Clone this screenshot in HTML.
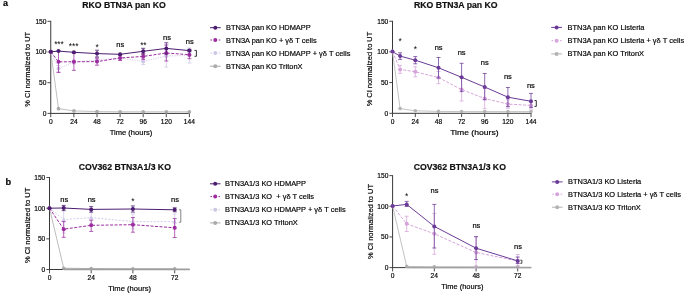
<!DOCTYPE html>
<html><head><meta charset="utf-8"><title>Figure</title>
<style>
html,body{margin:0;padding:0;background:#fff;}
body{width:685px;height:294px;overflow:hidden;font-family:"Liberation Sans",sans-serif;}
svg{display:block;will-change:transform;font-family:"Liberation Sans",sans-serif;}
text{fill:#000;stroke:#000;stroke-width:0.18px;}
.t{font-size:8.7px;font-weight:bold;fill:#111;}
.k{font-size:6.65px;}
.l{font-size:7.4px;}
.g{font-size:7.45px;white-space:pre;}
.n{font-size:7.5px;}.s{font-size:8.4px;letter-spacing:-0.1px;stroke:none;}
</style></head><body>
<svg width="685" height="294" viewBox="0 0 685 294">
<text x="3" y="5.8" style="font-size:9px;font-weight:bold">a</text>
<text class="t" x="124" y="8" text-anchor="middle">RKO BTN3A pan KO</text>
<path d="M50.75 20.85V113.4M50.25 113.4H189.8" stroke="#383838" stroke-width="1.0" fill="none"/>
<path d="M47.5 21.3H50.75" stroke="#383838" stroke-width="0.9"/>
<text class="k" x="46.5" y="24" text-anchor="end">150</text>
<path d="M47.5 52.0H50.75" stroke="#383838" stroke-width="0.9"/>
<text class="k" x="46.5" y="54" text-anchor="end">100</text>
<path d="M47.5 82.7H50.75" stroke="#383838" stroke-width="0.9"/>
<text class="k" x="46.5" y="85" text-anchor="end">50</text>
<path d="M47.5 113.4H50.75" stroke="#383838" stroke-width="0.9"/>
<text class="k" x="46.5" y="116" text-anchor="end">0</text>
<path d="M50.75 113.4V117.2" stroke="#383838" stroke-width="0.9"/>
<text class="k" x="50.75" y="124" text-anchor="middle">0</text>
<path d="M73.9 113.4V117.2" stroke="#383838" stroke-width="0.9"/>
<text class="k" x="73.9" y="124" text-anchor="middle">24</text>
<path d="M97.0 113.4V117.2" stroke="#383838" stroke-width="0.9"/>
<text class="k" x="97.0" y="124" text-anchor="middle">48</text>
<path d="M120.1 113.4V117.2" stroke="#383838" stroke-width="0.9"/>
<text class="k" x="120.1" y="124" text-anchor="middle">72</text>
<path d="M143.2 113.4V117.2" stroke="#383838" stroke-width="0.9"/>
<text class="k" x="143.2" y="124" text-anchor="middle">96</text>
<path d="M166.3 113.4V117.2" stroke="#383838" stroke-width="0.9"/>
<text class="k" x="166.3" y="124" text-anchor="middle">120</text>
<path d="M189.4 113.4V117.2" stroke="#383838" stroke-width="0.9"/>
<text class="k" x="189.4" y="124" text-anchor="middle">144</text>
<text class="l" x="131" y="135" text-anchor="middle" textLength="42.6" lengthAdjust="spacingAndGlyphs">Time (hours)</text>
<text class="l" transform="translate(30 69.3) rotate(-90)" text-anchor="middle" textLength="74.7" lengthAdjust="spacingAndGlyphs">% CI normalized to UT</text>
<polyline points="50.8,51.9 58.5,108.7 73.9,110.9 97.0,111.6 120.1,111.8 143.2,111.8 166.3,111.8 189.4,111.8" fill="none" stroke="#b0b0b0" stroke-width="0.8"/>
<circle cx="50.8" cy="51.9" r="1.85" fill="#ababab"/>
<circle cx="58.5" cy="108.7" r="1.85" fill="#ababab"/>
<circle cx="73.9" cy="110.9" r="1.85" fill="#ababab"/>
<circle cx="97.0" cy="111.6" r="1.85" fill="#ababab"/>
<circle cx="120.1" cy="111.8" r="1.85" fill="#ababab"/>
<circle cx="143.2" cy="111.8" r="1.85" fill="#ababab"/>
<circle cx="166.3" cy="111.8" r="1.85" fill="#ababab"/>
<circle cx="189.4" cy="111.8" r="1.85" fill="#ababab"/>
<path d="M58.5 65.6V71.6M56.5 65.6H60.5M56.5 71.6H60.5" stroke="#cfc6e6" stroke-width="0.75" fill="none"/>
<path d="M73.9 60.0V64.0M71.9 60.0H75.9M71.9 64.0H75.9" stroke="#cfc6e6" stroke-width="0.75" fill="none"/>
<path d="M97.0 58.0V62.0M95.0 58.0H99.0M95.0 62.0H99.0" stroke="#cfc6e6" stroke-width="0.75" fill="none"/>
<path d="M120.1 56.0V60.0M118.1 56.0H122.1M118.1 60.0H122.1" stroke="#cfc6e6" stroke-width="0.75" fill="none"/>
<path d="M143.2 58.5V64.5M141.2 58.5H145.2M141.2 64.5H145.2" stroke="#cfc6e6" stroke-width="0.75" fill="none"/>
<path d="M166.3 50.0V67.0M164.3 50.0H168.3M164.3 67.0H168.3" stroke="#cfc6e6" stroke-width="0.75" fill="none"/>
<path d="M189.4 48.0V63.0M187.4 48.0H191.4M187.4 63.0H191.4" stroke="#cfc6e6" stroke-width="0.75" fill="none"/>
<polyline points="50.8,51.8 58.5,68.6 73.9,62.0 97.0,60.0 120.1,58.0 143.2,61.5 166.3,56.0 189.4,55.5" fill="none" stroke="#cfc6e6" stroke-width="0.9" stroke-dasharray="1.2 1.2"/>
<circle cx="50.8" cy="51.8" r="2.0" fill="#cfc6e6"/>
<circle cx="58.5" cy="68.6" r="2.0" fill="#cfc6e6"/>
<circle cx="73.9" cy="62.0" r="2.0" fill="#cfc6e6"/>
<circle cx="97.0" cy="60.0" r="2.0" fill="#cfc6e6"/>
<circle cx="120.1" cy="58.0" r="2.0" fill="#cfc6e6"/>
<circle cx="143.2" cy="61.5" r="2.0" fill="#cfc6e6"/>
<circle cx="166.3" cy="56.0" r="2.0" fill="#cfc6e6"/>
<circle cx="189.4" cy="55.5" r="2.0" fill="#cfc6e6"/>
<path d="M58.5 51.0V72.5M56.5 51.0H60.5M56.5 72.5H60.5" stroke="#9c2ba0" stroke-width="0.75" fill="none"/>
<path d="M73.9 53.3V70.3M71.9 53.3H75.9M71.9 70.3H75.9" stroke="#9c2ba0" stroke-width="0.75" fill="none"/>
<path d="M97.0 58.0V65.2M95.0 58.0H99.0M95.0 65.2H99.0" stroke="#9c2ba0" stroke-width="0.75" fill="none"/>
<path d="M120.1 55.5V60.5M118.1 55.5H122.1M118.1 60.5H122.1" stroke="#9c2ba0" stroke-width="0.75" fill="none"/>
<path d="M143.2 53.4V59.4M141.2 53.4H145.2M141.2 59.4H145.2" stroke="#9c2ba0" stroke-width="0.75" fill="none"/>
<path d="M166.3 45.0V61.0M164.3 45.0H168.3M164.3 61.0H168.3" stroke="#9c2ba0" stroke-width="0.75" fill="none"/>
<path d="M189.4 50.7V58.7M187.4 50.7H191.4M187.4 58.7H191.4" stroke="#9c2ba0" stroke-width="0.75" fill="none"/>
<polyline points="50.8,51.8 58.5,61.8 73.9,61.8 97.0,61.6 120.1,58.0 143.2,56.4 166.3,53.0 189.4,54.7" fill="none" stroke="#9c2ba0" stroke-width="1.0" stroke-dasharray="3 1.5"/>
<circle cx="50.8" cy="51.8" r="2.0" fill="#9c2ba0"/>
<circle cx="58.5" cy="61.8" r="2.0" fill="#9c2ba0"/>
<circle cx="73.9" cy="61.8" r="2.0" fill="#9c2ba0"/>
<circle cx="97.0" cy="61.6" r="2.0" fill="#9c2ba0"/>
<circle cx="120.1" cy="58.0" r="2.0" fill="#9c2ba0"/>
<circle cx="143.2" cy="56.4" r="2.0" fill="#9c2ba0"/>
<circle cx="166.3" cy="53.0" r="2.0" fill="#9c2ba0"/>
<circle cx="189.4" cy="54.7" r="2.0" fill="#9c2ba0"/>
<path d="M97.0 50.2V57.0M95.0 50.2H99.0M95.0 57.0H99.0" stroke="#4b1c6f" stroke-width="0.75" fill="none"/>
<path d="M143.2 48.3V54.3M141.2 48.3H145.2M141.2 54.3H145.2" stroke="#4b1c6f" stroke-width="0.75" fill="none"/>
<path d="M166.3 42.8V54.0M164.3 42.8H168.3M164.3 54.0H168.3" stroke="#4b1c6f" stroke-width="0.75" fill="none"/>
<path d="M189.4 49.4V51.8M187.4 49.4H191.4M187.4 51.8H191.4" stroke="#4b1c6f" stroke-width="0.75" fill="none"/>
<polyline points="50.8,51.8 58.5,51.1 73.9,52.3 97.0,53.6 120.1,54.3 143.2,51.3 166.3,48.4 189.4,50.6" fill="none" stroke="#4b1c6f" stroke-width="1.0"/>
<circle cx="50.8" cy="51.8" r="2.0" fill="#4b1c6f"/>
<circle cx="58.5" cy="51.1" r="2.0" fill="#4b1c6f"/>
<circle cx="73.9" cy="52.3" r="2.0" fill="#4b1c6f"/>
<circle cx="97.0" cy="53.6" r="2.0" fill="#4b1c6f"/>
<circle cx="120.1" cy="54.3" r="2.0" fill="#4b1c6f"/>
<circle cx="143.2" cy="51.3" r="2.0" fill="#4b1c6f"/>
<circle cx="166.3" cy="48.4" r="2.0" fill="#4b1c6f"/>
<circle cx="189.4" cy="50.6" r="2.0" fill="#4b1c6f"/>
<text class="s" x="58.9" y="47" text-anchor="middle">***</text>
<text class="s" x="73.6" y="49" text-anchor="middle">***</text>
<text class="s" x="97.1" y="50" text-anchor="middle">*</text>
<text class="n" x="120.2" y="47" text-anchor="middle">ns</text>
<text class="s" x="143.3" y="48" text-anchor="middle">**</text>
<text class="n" x="167" y="40" text-anchor="middle">ns</text>
<text class="n" x="189.7" y="44" text-anchor="middle">ns</text>
<path d="M194.5 50.4H196.4V56.3H194.5" stroke="#333" stroke-width="1" fill="none"/>
<path d="M210 27.7H220.7" stroke="#4b1c6f" stroke-width="1"/>
<circle cx="215.3" cy="27.7" r="2" fill="#4b1c6f"/>
<text class="g" x="226" y="30" xml:space="preserve">BTN3A pan KO HDMAPP</text>
<path d="M210.4 40.0h1.6M218.7 40.0h1.6" stroke="#9c2ba0" stroke-width="1"/>
<circle cx="215.3" cy="40.0" r="2" fill="#9c2ba0"/>
<text class="g" x="226" y="43" xml:space="preserve">BTN3A pan KO + γδ T cells</text>
<path d="M210.4 53.1h1.6M218.7 53.1h1.6" stroke="#cfc6e6" stroke-width="1"/>
<circle cx="215.3" cy="53.1" r="2" fill="#cfc6e6"/>
<text class="g" x="226" y="56" xml:space="preserve">BTN3A pan KO HDMAPP + γδ T cells</text>
<path d="M210 66.2H220.7" stroke="#ababab" stroke-width="1"/>
<circle cx="215.3" cy="66.2" r="2" fill="#ababab"/>
<text class="g" x="226" y="69" xml:space="preserve">BTN3A pan KO TritonX</text>
<text class="t" x="455.8" y="8" text-anchor="middle">RKO BTN3A pan KO</text>
<path d="M392.5 20.8V113.3M392.0 113.3H531.4" stroke="#383838" stroke-width="1.0" fill="none"/>
<path d="M389.3 21.25H392.5" stroke="#383838" stroke-width="0.9"/>
<text class="k" x="388.3" y="24" text-anchor="end">150</text>
<path d="M389.3 51.9H392.5" stroke="#383838" stroke-width="0.9"/>
<text class="k" x="388.3" y="54" text-anchor="end">100</text>
<path d="M389.3 82.55H392.5" stroke="#383838" stroke-width="0.9"/>
<text class="k" x="388.3" y="85" text-anchor="end">50</text>
<path d="M389.3 113.3H392.5" stroke="#383838" stroke-width="0.9"/>
<text class="k" x="388.3" y="116" text-anchor="end">0</text>
<path d="M392.5 113.3V117.1" stroke="#383838" stroke-width="0.9"/>
<text class="k" x="392.5" y="124" text-anchor="middle">0</text>
<path d="M415.3 113.3V117.1" stroke="#383838" stroke-width="0.9"/>
<text class="k" x="415.3" y="124" text-anchor="middle">24</text>
<path d="M438.5 113.3V117.1" stroke="#383838" stroke-width="0.9"/>
<text class="k" x="438.5" y="124" text-anchor="middle">48</text>
<path d="M461.6 113.3V117.1" stroke="#383838" stroke-width="0.9"/>
<text class="k" x="461.6" y="124" text-anchor="middle">72</text>
<path d="M484.7 113.3V117.1" stroke="#383838" stroke-width="0.9"/>
<text class="k" x="484.7" y="124" text-anchor="middle">96</text>
<path d="M507.9 113.3V117.1" stroke="#383838" stroke-width="0.9"/>
<text class="k" x="507.9" y="124" text-anchor="middle">120</text>
<path d="M531.0 113.3V117.1" stroke="#383838" stroke-width="0.9"/>
<text class="k" x="531.0" y="124" text-anchor="middle">144</text>
<text class="l" x="474.4" y="135" text-anchor="middle" textLength="48.5" lengthAdjust="spacingAndGlyphs">Time (hours)</text>
<text class="l" transform="translate(372 69.05) rotate(-90)" text-anchor="middle" textLength="74.6" lengthAdjust="spacingAndGlyphs">% CI normalized to UT</text>
<polyline points="392.5,51.8 400.1,108.6 415.3,110.8 438.5,111.4 461.6,111.6 484.7,111.6 507.9,111.6 531.0,111.6" fill="none" stroke="#b4b4b4" stroke-width="0.8"/>
<circle cx="392.5" cy="51.8" r="1.8" fill="#b3b3b3"/>
<circle cx="400.1" cy="108.6" r="1.8" fill="#b3b3b3"/>
<circle cx="415.3" cy="110.8" r="1.8" fill="#b3b3b3"/>
<circle cx="438.5" cy="111.4" r="1.8" fill="#b3b3b3"/>
<circle cx="461.6" cy="111.6" r="1.8" fill="#b3b3b3"/>
<circle cx="484.7" cy="111.6" r="1.8" fill="#b3b3b3"/>
<circle cx="507.9" cy="111.6" r="1.8" fill="#b3b3b3"/>
<circle cx="531.0" cy="111.6" r="1.8" fill="#b3b3b3"/>
<path d="M400.1 65.4V73.4M398.1 65.4H402.1M398.1 73.4H402.1" stroke="#d6a3da" stroke-width="0.75" fill="none"/>
<path d="M415.3 66.8V76.8M413.3 66.8H417.3M413.3 76.8H417.3" stroke="#d6a3da" stroke-width="0.75" fill="none"/>
<path d="M438.5 71.5V83.7M436.5 71.5H440.5M436.5 83.7H440.5" stroke="#d6a3da" stroke-width="0.75" fill="none"/>
<path d="M461.6 77.5V101.0M459.6 77.5H463.6M459.6 101.0H463.6" stroke="#d6a3da" stroke-width="0.75" fill="none"/>
<path d="M484.7 88.3V108.7M482.7 88.3H486.7M482.7 108.7H486.7" stroke="#d6a3da" stroke-width="0.75" fill="none"/>
<path d="M507.9 99.7V108.2M505.9 99.7H509.9M505.9 108.2H509.9" stroke="#d6a3da" stroke-width="0.75" fill="none"/>
<path d="M531.0 102.0V109.0M529.0 102.0H533.0M529.0 109.0H533.0" stroke="#d6a3da" stroke-width="0.75" fill="none"/>
<polyline points="392.5,51.6 400.1,69.4 415.3,71.8 438.5,77.6 461.6,89.5 484.7,98.5 507.9,104.1 531.0,105.4" fill="none" stroke="#d6a3da" stroke-width="1.0" stroke-dasharray="3 1.5"/>
<circle cx="392.5" cy="51.6" r="2.0" fill="#d6a3da"/>
<circle cx="400.1" cy="69.4" r="2.0" fill="#d6a3da"/>
<circle cx="415.3" cy="71.8" r="2.0" fill="#d6a3da"/>
<circle cx="438.5" cy="77.6" r="2.0" fill="#d6a3da"/>
<circle cx="461.6" cy="89.5" r="2.0" fill="#d6a3da"/>
<circle cx="484.7" cy="98.5" r="2.0" fill="#d6a3da"/>
<circle cx="507.9" cy="104.1" r="2.0" fill="#d6a3da"/>
<circle cx="531.0" cy="105.4" r="2.0" fill="#d6a3da"/>
<path d="M400.1 52.8V59.4M398.1 52.8H402.1M398.1 59.4H402.1" stroke="#6a3a97" stroke-width="0.75" fill="none"/>
<path d="M415.3 56.6V63.8M413.3 56.6H417.3M413.3 63.8H417.3" stroke="#6a3a97" stroke-width="0.75" fill="none"/>
<path d="M438.5 57.5V78.0M436.5 57.5H440.5M436.5 78.0H440.5" stroke="#6a3a97" stroke-width="0.75" fill="none"/>
<path d="M461.6 63.3V91.6M459.6 63.3H463.6M459.6 91.6H463.6" stroke="#6a3a97" stroke-width="0.75" fill="none"/>
<path d="M484.7 73.5V99.7M482.7 73.5H486.7M482.7 99.7H486.7" stroke="#6a3a97" stroke-width="0.75" fill="none"/>
<path d="M507.9 87.5V106.6M505.9 87.5H509.9M505.9 106.6H509.9" stroke="#6a3a97" stroke-width="0.75" fill="none"/>
<path d="M531.0 93.4V107.4M529.0 93.4H533.0M529.0 107.4H533.0" stroke="#6a3a97" stroke-width="0.75" fill="none"/>
<polyline points="392.5,51.6 400.1,56.1 415.3,60.2 438.5,67.8 461.6,77.3 484.7,87.0 507.9,97.2 531.0,101.3" fill="none" stroke="#6a3a97" stroke-width="1.0"/>
<circle cx="392.5" cy="51.6" r="2.0" fill="#6a3a97"/>
<circle cx="400.1" cy="56.1" r="2.0" fill="#6a3a97"/>
<circle cx="415.3" cy="60.2" r="2.0" fill="#6a3a97"/>
<circle cx="438.5" cy="67.8" r="2.0" fill="#6a3a97"/>
<circle cx="461.6" cy="77.3" r="2.0" fill="#6a3a97"/>
<circle cx="484.7" cy="87.0" r="2.0" fill="#6a3a97"/>
<circle cx="507.9" cy="97.2" r="2.0" fill="#6a3a97"/>
<circle cx="531.0" cy="101.3" r="2.0" fill="#6a3a97"/>
<text class="s" x="400" y="44" text-anchor="middle">*</text>
<text class="s" x="415.3" y="52" text-anchor="middle">*</text>
<text class="n" x="438.6" y="50" text-anchor="middle">ns</text>
<text class="n" x="461.6" y="55" text-anchor="middle">ns</text>
<text class="n" x="484.7" y="65" text-anchor="middle">ns</text>
<text class="n" x="507.9" y="79" text-anchor="middle">ns</text>
<text class="n" x="530.9" y="88" text-anchor="middle">ns</text>
<path d="M534.5 100.5H536.3V106.4H534.5" stroke="#333" stroke-width="1" fill="none"/>
<path d="M551.2 27.4H562" stroke="#6a3a97" stroke-width="1"/>
<circle cx="556.6" cy="27.4" r="2" fill="#6a3a97"/>
<text class="g" x="567.5" y="30" xml:space="preserve">BTN3A pan KO Listeria</text>
<path d="M551.6 40.7h1.6M560.0 40.7h1.6" stroke="#d6a3da" stroke-width="1"/>
<circle cx="556.6" cy="40.7" r="2" fill="#d6a3da"/>
<text class="g" x="567.5" y="43" xml:space="preserve">BTN3A pan KO Listeria + γδ T cells</text>
<path d="M551.2 53.9H562" stroke="#b3b3b3" stroke-width="1"/>
<circle cx="556.6" cy="53.9" r="2" fill="#b3b3b3"/>
<text class="g" x="567.5" y="56" xml:space="preserve">BTN3A pan KO TritonX</text>
<text x="5.6" y="185" style="font-size:9.2px;font-weight:bold">b</text>
<text class="t" x="124.8" y="170" text-anchor="middle">COV362 BTN3A1/3 KO</text>
<path d="M49.5 177.05V269.5M49.0 269.5H189.5" stroke="#383838" stroke-width="1.0" fill="none"/>
<path d="M46.3 177.5H49.5" stroke="#383838" stroke-width="0.9"/>
<text class="k" x="45.3" y="180" text-anchor="end">150</text>
<path d="M46.3 208.2H49.5" stroke="#383838" stroke-width="0.9"/>
<text class="k" x="45.3" y="211" text-anchor="end">100</text>
<path d="M46.3 238.85H49.5" stroke="#383838" stroke-width="0.9"/>
<text class="k" x="45.3" y="241" text-anchor="end">50</text>
<path d="M46.3 269.5H49.5" stroke="#383838" stroke-width="0.9"/>
<text class="k" x="45.3" y="272" text-anchor="end">0</text>
<path d="M49.5 269.5V273.3" stroke="#383838" stroke-width="0.9"/>
<text class="k" x="49.5" y="280" text-anchor="middle">0</text>
<path d="M91.2 269.5V273.3" stroke="#383838" stroke-width="0.9"/>
<text class="k" x="91.2" y="280" text-anchor="middle">24</text>
<path d="M132.9 269.5V273.3" stroke="#383838" stroke-width="0.9"/>
<text class="k" x="132.9" y="280" text-anchor="middle">48</text>
<path d="M174.7 269.5V273.3" stroke="#383838" stroke-width="0.9"/>
<text class="k" x="174.7" y="280" text-anchor="middle">72</text>
<text class="l" x="129.65" y="291" text-anchor="middle" textLength="42.7" lengthAdjust="spacingAndGlyphs">Time (hours)</text>
<text class="l" transform="translate(30 225.35) rotate(-90)" text-anchor="middle" textLength="75.4" lengthAdjust="spacingAndGlyphs">% CI normalized to UT</text>
<polyline points="49.5,208.2 63.7,268.2 91.2,268.6 132.9,268.8 174.7,268.8" fill="none" stroke="#ababab" stroke-width="0.8"/>
<circle cx="49.5" cy="208.2" r="1.8" fill="#ababab"/>
<circle cx="63.7" cy="268.2" r="1.8" fill="#ababab"/>
<circle cx="91.2" cy="268.6" r="1.8" fill="#ababab"/>
<circle cx="132.9" cy="268.8" r="1.8" fill="#ababab"/>
<circle cx="174.7" cy="268.8" r="1.8" fill="#ababab"/>
<path d="M63.7 269.45H189.5" stroke="#9e9e9e" stroke-width="1.7"/>
<path d="M63.7 206.0V233.0M61.7 206.0H65.7M61.7 233.0H65.7" stroke="#cfc6e6" stroke-width="0.75" fill="none"/>
<path d="M91.2 211.0V224.0M89.2 211.0H93.2M89.2 224.0H93.2" stroke="#cfc6e6" stroke-width="0.75" fill="none"/>
<path d="M132.9 214.0V229.0M130.9 214.0H134.9M130.9 229.0H134.9" stroke="#cfc6e6" stroke-width="0.75" fill="none"/>
<path d="M174.7 214.0V229.0M172.7 214.0H176.7M172.7 229.0H176.7" stroke="#cfc6e6" stroke-width="0.75" fill="none"/>
<polyline points="49.5,208.2 63.7,219.6 91.2,217.6 132.9,221.6 174.7,221.6" fill="none" stroke="#cfc6e6" stroke-width="0.9" stroke-dasharray="2 1.5"/>
<path d="M49.5 205.8L51.7 210.0H47.3Z" fill="#cfc6e6"/>
<path d="M63.7 217.2L65.9 221.4H61.5Z" fill="#cfc6e6"/>
<path d="M91.2 215.2L93.4 219.4H89.0Z" fill="#cfc6e6"/>
<path d="M132.9 219.2L135.1 223.4H130.7Z" fill="#cfc6e6"/>
<path d="M174.7 219.2L176.9 223.4H172.5Z" fill="#cfc6e6"/>
<path d="M63.7 221.6V237.3M61.7 221.6H65.7M61.7 237.3H65.7" stroke="#9c2ba0" stroke-width="0.75" fill="none"/>
<path d="M91.2 220.2V231.4M89.2 220.2H93.2M89.2 231.4H93.2" stroke="#9c2ba0" stroke-width="0.75" fill="none"/>
<path d="M132.9 217.5V232.2M130.9 217.5H134.9M130.9 232.2H134.9" stroke="#9c2ba0" stroke-width="0.75" fill="none"/>
<path d="M174.7 218.6V237.5M172.7 218.6H176.7M172.7 237.5H176.7" stroke="#9c2ba0" stroke-width="0.75" fill="none"/>
<polyline points="49.5,208.2 63.7,229.2 91.2,225.3 132.9,224.7 174.7,227.8" fill="none" stroke="#9c2ba0" stroke-width="1.0" stroke-dasharray="3 1.5"/>
<circle cx="49.5" cy="208.2" r="2.0" fill="#9c2ba0"/>
<circle cx="63.7" cy="229.2" r="2.0" fill="#9c2ba0"/>
<circle cx="91.2" cy="225.3" r="2.0" fill="#9c2ba0"/>
<circle cx="132.9" cy="224.7" r="2.0" fill="#9c2ba0"/>
<circle cx="174.7" cy="227.8" r="2.0" fill="#9c2ba0"/>
<path d="M63.7 205.4V210.6M61.7 205.4H65.7M61.7 210.6H65.7" stroke="#4b1c6f" stroke-width="0.75" fill="none"/>
<path d="M91.2 206.6V212.2M89.2 206.6H93.2M89.2 212.2H93.2" stroke="#4b1c6f" stroke-width="0.75" fill="none"/>
<path d="M132.9 205.9V212.1M130.9 205.9H134.9M130.9 212.1H134.9" stroke="#4b1c6f" stroke-width="0.75" fill="none"/>
<path d="M174.7 207.8V211.8M172.7 207.8H176.7M172.7 211.8H176.7" stroke="#4b1c6f" stroke-width="0.75" fill="none"/>
<polyline points="49.5,208.2 63.7,208.0 91.2,209.4 132.9,209.0 174.7,209.8" fill="none" stroke="#4b1c6f" stroke-width="1.0"/>
<circle cx="49.5" cy="208.2" r="2.0" fill="#4b1c6f"/>
<circle cx="63.7" cy="208.0" r="2.0" fill="#4b1c6f"/>
<circle cx="91.2" cy="209.4" r="2.0" fill="#4b1c6f"/>
<circle cx="132.9" cy="209.0" r="2.0" fill="#4b1c6f"/>
<circle cx="174.7" cy="209.8" r="2.0" fill="#4b1c6f"/>
<text class="n" x="64.2" y="202" text-anchor="middle">ns</text>
<text class="n" x="91.6" y="202" text-anchor="middle">ns</text>
<text class="s" x="132.9" y="204" text-anchor="middle">*</text>
<text class="n" x="175" y="202" text-anchor="middle">ns</text>
<path d="M179 209.8H180.8V222.2H179" stroke="#777" stroke-width="0.9" fill="none"/>
<path d="M210 183.8H220.5" stroke="#4b1c6f" stroke-width="1"/>
<circle cx="215.2" cy="183.8" r="2" fill="#4b1c6f"/>
<text class="g" x="225" y="186" xml:space="preserve">BTN3A1/3 KO HDMAPP</text>
<path d="M210.4 196.6h1.6M218.5 196.6h1.6" stroke="#9c2ba0" stroke-width="1"/>
<circle cx="215.2" cy="196.6" r="2" fill="#9c2ba0"/>
<text class="g" x="225" y="199" xml:space="preserve">BTN3A1/3 KO  + γδ T cells</text>
<path d="M210.4 209.7h1.6M218.5 209.7h1.6" stroke="#cfc6e6" stroke-width="1"/>
<circle cx="215.2" cy="209.7" r="2" fill="#cfc6e6"/>
<text class="g" x="225" y="212" xml:space="preserve">BTN3A1/3 KO HDMAPP + γδ T cells</text>
<path d="M210 222.9H220.5" stroke="#ababab" stroke-width="1"/>
<circle cx="215.2" cy="222.9" r="2" fill="#ababab"/>
<text class="g" x="225" y="225" xml:space="preserve">BTN3A1/3 KO TritonX</text>
<text class="t" x="459.8" y="170" text-anchor="middle">COV362 BTN3A1/3 KO</text>
<path d="M392.6 175.15V267.6M392.1 267.6H531.2" stroke="#383838" stroke-width="1.0" fill="none"/>
<path d="M389.4 175.6H392.6" stroke="#383838" stroke-width="0.9"/>
<text class="k" x="388.4" y="178" text-anchor="end">150</text>
<path d="M389.4 206.25H392.6" stroke="#383838" stroke-width="0.9"/>
<text class="k" x="388.4" y="209" text-anchor="end">100</text>
<path d="M389.4 236.95H392.6" stroke="#383838" stroke-width="0.9"/>
<text class="k" x="388.4" y="239" text-anchor="end">50</text>
<path d="M389.4 267.6H392.6" stroke="#383838" stroke-width="0.9"/>
<text class="k" x="388.4" y="270" text-anchor="end">0</text>
<path d="M392.6 267.6V271.4" stroke="#383838" stroke-width="0.9"/>
<text class="k" x="392.6" y="278" text-anchor="middle">0</text>
<path d="M434.3 267.6V271.4" stroke="#383838" stroke-width="0.9"/>
<text class="k" x="434.3" y="278" text-anchor="middle">24</text>
<path d="M476.1 267.6V271.4" stroke="#383838" stroke-width="0.9"/>
<text class="k" x="476.1" y="278" text-anchor="middle">48</text>
<path d="M517.7 267.6V271.4" stroke="#383838" stroke-width="0.9"/>
<text class="k" x="517.7" y="278" text-anchor="middle">72</text>
<text class="l" x="462.35" y="289" text-anchor="middle" textLength="42.1" lengthAdjust="spacingAndGlyphs">Time (hours)</text>
<text class="l" transform="translate(373 221.5) rotate(-90)" text-anchor="middle" textLength="75.1" lengthAdjust="spacingAndGlyphs">% CI normalized to UT</text>
<polyline points="392.6,206.1 406.7,266.4 434.3,266.8 476.1,266.9 517.7,266.9" fill="none" stroke="#b3b3b3" stroke-width="0.8"/>
<circle cx="392.6" cy="206.1" r="1.8" fill="#b3b3b3"/>
<circle cx="406.7" cy="266.4" r="1.8" fill="#b3b3b3"/>
<circle cx="434.3" cy="266.8" r="1.8" fill="#b3b3b3"/>
<circle cx="476.1" cy="266.9" r="1.8" fill="#b3b3b3"/>
<circle cx="517.7" cy="266.9" r="1.8" fill="#b3b3b3"/>
<path d="M406.7 267.5H531.2" stroke="#a2a2a2" stroke-width="1.7"/>
<path d="M406.7 216.2V231.5M404.7 216.2H408.7M404.7 231.5H408.7" stroke="#d6a3da" stroke-width="0.75" fill="none"/>
<path d="M434.3 213.4V254.2M432.3 213.4H436.3M432.3 254.2H436.3" stroke="#d6a3da" stroke-width="0.75" fill="none"/>
<path d="M476.1 236.7V267.3M474.1 236.7H478.1M474.1 267.3H478.1" stroke="#d6a3da" stroke-width="0.75" fill="none"/>
<path d="M517.7 254.5V266.0M515.7 254.5H519.7M515.7 266.0H519.7" stroke="#d6a3da" stroke-width="0.75" fill="none"/>
<polyline points="392.6,206.0 406.7,223.8 434.3,233.8 476.1,252.5 517.7,261.0" fill="none" stroke="#d6a3da" stroke-width="1.0" stroke-dasharray="3 1.5"/>
<circle cx="392.6" cy="206.0" r="2.0" fill="#d6a3da"/>
<circle cx="406.7" cy="223.8" r="2.0" fill="#d6a3da"/>
<circle cx="434.3" cy="233.8" r="2.0" fill="#d6a3da"/>
<circle cx="476.1" cy="252.5" r="2.0" fill="#d6a3da"/>
<circle cx="517.7" cy="261.0" r="2.0" fill="#d6a3da"/>
<path d="M406.7 201.4V206.5M404.7 201.4H408.7M404.7 206.5H408.7" stroke="#6a3a97" stroke-width="0.75" fill="none"/>
<path d="M434.3 204.4V248.0M432.3 204.4H436.3M432.3 248.0H436.3" stroke="#6a3a97" stroke-width="0.75" fill="none"/>
<path d="M476.1 236.7V259.6M474.1 236.7H478.1M474.1 259.6H478.1" stroke="#6a3a97" stroke-width="0.75" fill="none"/>
<path d="M517.7 257.0V263.5M515.7 257.0H519.7M515.7 263.5H519.7" stroke="#6a3a97" stroke-width="0.75" fill="none"/>
<polyline points="392.6,206.0 406.7,204.4 434.3,226.4 476.1,248.2 517.7,260.9" fill="none" stroke="#6a3a97" stroke-width="1.0"/>
<circle cx="392.6" cy="206.0" r="2.0" fill="#6a3a97"/>
<circle cx="406.7" cy="204.4" r="2.0" fill="#6a3a97"/>
<circle cx="434.3" cy="226.4" r="2.0" fill="#6a3a97"/>
<circle cx="476.1" cy="248.2" r="2.0" fill="#6a3a97"/>
<circle cx="517.7" cy="260.9" r="2.0" fill="#6a3a97"/>
<text class="s" x="406.7" y="199" text-anchor="middle">*</text>
<text class="n" x="434.5" y="193" text-anchor="middle">ns</text>
<text class="n" x="476.4" y="228" text-anchor="middle">ns</text>
<text class="n" x="518" y="249" text-anchor="middle">ns</text>
<path d="M520.3 260.2H521.9V263.3H520.3" stroke="#333" stroke-width="0.9" fill="none"/>
<path d="M551.9 181.9H562.6" stroke="#6a3a97" stroke-width="1"/>
<circle cx="557.2" cy="181.9" r="2" fill="#6a3a97"/>
<text class="g" x="568" y="184" xml:space="preserve">BTN3A1/3 KO Listeria</text>
<path d="M552.3 194.2h1.6M560.6 194.2h1.6" stroke="#d6a3da" stroke-width="1"/>
<circle cx="557.2" cy="194.2" r="2" fill="#d6a3da"/>
<text class="g" x="568" y="197" xml:space="preserve">BTN3A1/3 KO Listeria + γδ T cells</text>
<path d="M551.9 207.2H562.6" stroke="#b3b3b3" stroke-width="1"/>
<circle cx="557.2" cy="207.2" r="2" fill="#b3b3b3"/>
<text class="g" x="568" y="210" xml:space="preserve">BTN3A1/3 KO TritonX</text>
</svg>
</body></html>
